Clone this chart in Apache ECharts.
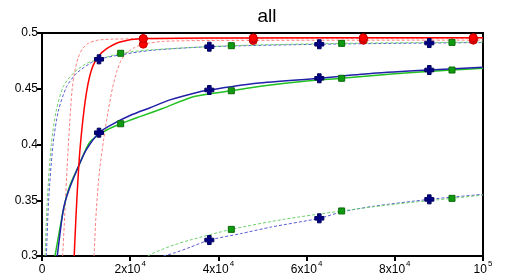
<!DOCTYPE html>
<html><head><meta charset="utf-8">
<script src="https://cdn.jsdelivr.net/npm/echarts@6/dist/echarts.min.js"></script>
<style>html,body{margin:0;padding:0;background:#fff}#c{width:507px;height:276px}</style>
</head><body><div id="c"></div>
<script>
const title = 'all';
const xTicks = [0, 20000, 40000, 60000, 80000, 100000];
const xTickLabels = ['0', '2x10|4', '4x10|4', '6x10|4', '8x10|4', '10|5'];
const yTicks = [0.3, 0.35, 0.4, 0.45, 0.5];

// red solid
const redSolidX = [7300, 7700, 8100, 8500, 9000, 9500, 10100, 10800, 11600, 12770, 14670, 17700, 22970, 40000, 100000];
const redSolidY = [0.300, 0.335, 0.365, 0.390, 0.412, 0.430, 0.447, 0.461, 0.471, 0.479, 0.486, 0.492, 0.4950, 0.4956, 0.4958];
// red dashed (early)
const redDashAX = [4690, 5200, 5700, 6300, 6800, 7400, 8200, 9200, 10500, 12500, 16000, 22970, 100000];
const redDashAY = [0.300, 0.340, 0.380, 0.420, 0.448, 0.465, 0.478, 0.486, 0.4908, 0.4935, 0.4945, 0.4948, 0.4950];
// red dashed (late)
const redDashBX = [11800, 12300, 13000, 14000, 15000, 16000, 17000, 18000, 19500, 21000, 22970, 27500, 40000, 100000];
const redDashBY = [0.300, 0.340, 0.375, 0.405, 0.430, 0.451, 0.466, 0.476, 0.483, 0.487, 0.490, 0.4925, 0.4933, 0.4936];
const redMarkX = [22970, 47900, 72860, 97800];
const redMarkSolidY = [0.4950, 0.4956, 0.4957, 0.4958];
const redMarkAY = [0.4948, 0.4949, 0.4950, 0.4950];
const redMarkBY = [0.4900, 0.4933, 0.4935, 0.4936];

// blue solid
const blueSolidX = [3470, 4830, 6000, 8230, 10000, 12925, 15400, 19950, 24500, 29000, 35800, 37940, 48680, 62880, 75130, 87820, 100000];
const blueSolidY = [0.300, 0.3413, 0.358, 0.380, 0.395, 0.4106, 0.417, 0.426, 0.433, 0.440, 0.4474, 0.4489, 0.4549, 0.4594, 0.4638, 0.4668, 0.4692];
// blue dashed upper
const blueDashUX = [1000, 1500, 2500, 3700, 5600, 7870, 10900, 12925, 17840, 25000, 37940, 62880, 87820, 100000];
const blueDashUY = [0.300, 0.350, 0.400, 0.430, 0.452, 0.464, 0.4728, 0.4764, 0.4805, 0.4845, 0.4877, 0.4899, 0.4910, 0.4914];
// blue dashed lower
const blueDashLX = [27500, 29770, 33560, 37940, 45000, 52000, 62880, 67950, 75000, 87820, 100000];
const blueDashLY = [0.300, 0.3024, 0.3078, 0.3143, 0.320, 0.326, 0.3338, 0.3395, 0.3445, 0.3508, 0.3553];
const blueMarkX = [12925, 37940, 62880, 87820];
const blueMarkSolidY = [0.4106, 0.4489, 0.4594, 0.4668];
const blueMarkUY = [0.4764, 0.4877, 0.4899, 0.4910];
const blueMarkLX = [37940, 62880, 87820];
const blueMarkLY = [0.3143, 0.3338, 0.3508];

// green solid
const greenSolidX = [2950, 4830, 6200, 8230, 10900, 14670, 17840, 22200, 27500, 34500, 42930, 50000, 60000, 67950, 80000, 92970, 100000];
const greenSolidY = [0.300, 0.341, 0.362, 0.380, 0.4025, 0.413, 0.4186, 0.425, 0.4325, 0.443, 0.4482, 0.4525, 0.457, 0.4594, 0.4635, 0.4668, 0.4683];
// green dashed upper
const greenDashUX = [700, 1200, 2100, 3200, 4830, 7100, 10130, 12925, 17840, 25000, 42930, 67950, 92970, 100000];
const greenDashUY = [0.300, 0.350, 0.400, 0.430, 0.452, 0.464, 0.4728, 0.4764, 0.4818, 0.485, 0.4886, 0.4907, 0.4916, 0.4918];
// green dashed lower
const greenDashLX = [24000, 26000, 30000, 33560, 42930, 55000, 67950, 80000, 92970, 100000];
const greenDashLY = [0.300, 0.3039, 0.310, 0.3143, 0.3239, 0.333, 0.3404, 0.3465, 0.3517, 0.3547];
const greenMarkX = [17840, 42930, 67950, 92970];
const greenMarkSolidY = [0.4186, 0.4482, 0.4594, 0.4668];
const greenMarkUY = [0.4818, 0.4886, 0.4907, 0.4916];
const greenMarkLX = [42930, 67950, 92970];
const greenMarkLY = [0.3239, 0.3404, 0.3517];

const zip = (xs, ys) => xs.map((x, i) => [x, ys[i]]);
const PLUS = 'path://M3,0h4v3h3v4h-3v3h-4v-3h-3v-4h3z';

function line(xs, ys, color, dashed, width) {
  return {
    type: 'line', data: zip(xs, ys), showSymbol: false, symbol: 'none', smooth: 0.25,
    clip: true, silent: true, z: dashed ? 2 : 3,
    lineStyle: { color: color, width: width || (dashed ? 1 : 1.5), type: dashed ? [3, 2] : 'solid' }
  };
}
function marks(xs, ys, symbol, size, fill, border) {
  return {
    type: 'scatter', data: zip(xs, ys), symbol: symbol, symbolSize: size, silent: true, z: 5,
    itemStyle: { color: fill, borderColor: border, borderWidth: 1, opacity: 1 }
  };
}

const chart = echarts.init(document.getElementById('c'), null, { renderer: 'canvas' });
chart.setOption({
  animation: false,
  backgroundColor: '#fff',
  title: {
    text: title, left: 262, top: 2, textAlign: 'center',
    textStyle: { fontFamily: 'Liberation Sans', fontSize: 19, fontWeight: 'normal', color: '#000' }
  },
  grid: { left: 42, right: 24, top: 33, bottom: 20, show: true, borderColor: '#000', borderWidth: 2, backgroundColor: 'transparent' },
  xAxis: {
    type: 'value', min: 0, max: 100000, interval: 20000,
    axisLine: { show: true, lineStyle: { color: '#000', width: 2 } },
    axisTick: { show: true, length: 5, lineStyle: { color: '#000', width: 2 } },
    splitLine: { show: false },
    axisLabel: {
      margin: 4, color: '#000', fontFamily: 'Liberation Sans', fontSize: 12,
      formatter: function (v) {
        const i = xTicks.indexOf(v);
        const s = i >= 0 ? xTickLabels[i] : '';
        const p = s.split('|');
        return p.length > 1 ? '{b|' + p[0] + '}{s|' + p[1] + '}' : '{b|' + p[0] + '}';
      },
      rich: {
        b: { fontFamily: 'Liberation Sans', fontSize: 12, color: '#000', lineHeight: 16, verticalAlign: 'bottom' },
        s: { fontFamily: 'Liberation Sans', fontSize: 8, color: '#000', lineHeight: 16, verticalAlign: 'top', padding: [0, 0, 0, 1] }
      }
    }
  },
  yAxis: {
    type: 'value', min: 0.3, max: 0.5, interval: 0.05,
    axisLine: { show: true, lineStyle: { color: '#000', width: 2 } },
    axisTick: { show: true, length: 5, lineStyle: { color: '#000', width: 2 } },
    splitLine: { show: false },
    axisLabel: {
      margin: 4, color: '#000', fontFamily: 'Liberation Sans', fontSize: 12,
      formatter: function (v) {
        let best = yTicks[0];
        yTicks.forEach(t => { if (Math.abs(t - v) < Math.abs(best - v)) best = t; });
        return String(best);
      }
    }
  },
  series: [
    line(redDashAX, redDashAY, '#ff8080', true),
    line(redDashBX, redDashBY, '#ff8080', true),
    line(blueDashUX, blueDashUY, '#5a5ad6', true),
    line(greenDashUX, greenDashUY, '#6cd06c', true),
    line(blueDashLX, blueDashLY, '#5a5ad6', true),
    line(greenDashLX, greenDashLY, '#6cd06c', true),
    line(greenSolidX, greenSolidY, '#22c022', false),
    line(blueSolidX, blueSolidY, '#2020a8', false),
    line(redSolidX, redSolidY, '#ff0000', false),
    marks(redMarkX, redMarkBY, 'circle', 8, '#ff0000', '#c00000'),
    marks(redMarkX, redMarkAY, 'circle', 8, '#ff0000', '#c00000'),
    marks(redMarkX, redMarkSolidY, 'circle', 8, '#ff0000', '#c00000'),
    marks(greenMarkX, greenMarkUY, 'rect', 6, '#109a10', '#0a6a0a'),
    marks(greenMarkX, greenMarkSolidY, 'rect', 6, '#109a10', '#0a6a0a'),
    marks(greenMarkLX, greenMarkLY, 'rect', 6, '#109a10', '#0a6a0a'),
    marks(blueMarkX, blueMarkUY, PLUS, 9, '#000080', '#000060'),
    marks(blueMarkX, blueMarkSolidY, PLUS, 9, '#000080', '#000060'),
    marks(blueMarkLX, blueMarkLY, PLUS, 9, '#000080', '#000060')
  ]
});
</script></body></html>
